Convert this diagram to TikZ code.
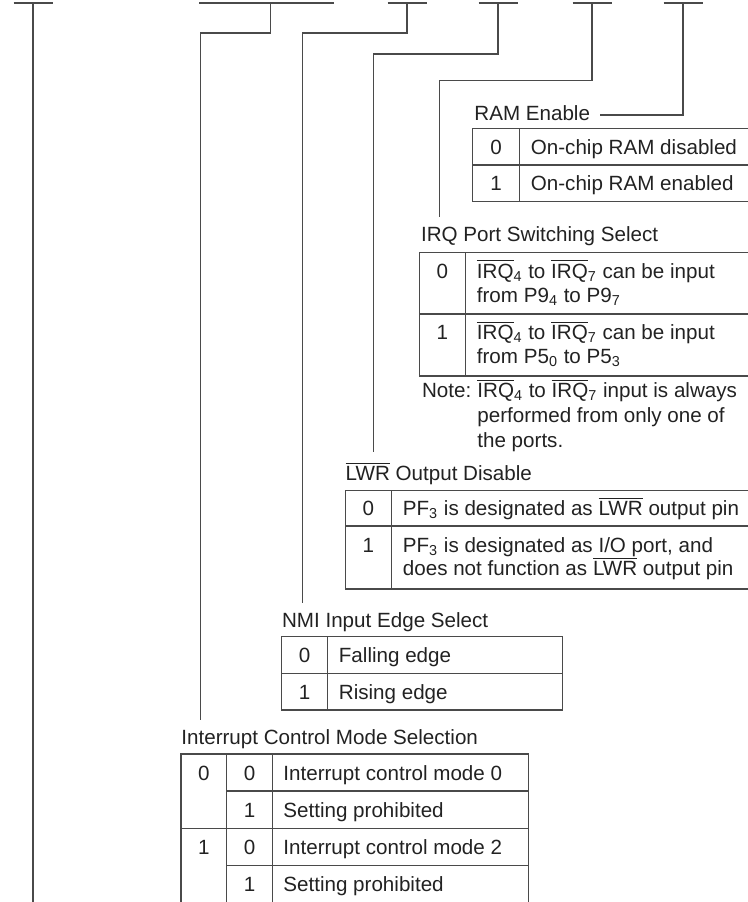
\documentclass[tikz,border=0pt]{standalone}
\usepackage{fontspec}
\setmainfont{Liberation Sans}
\usetikzlibrary{calc}
\definecolor{ink}{HTML}{222222}
\definecolor{rule}{HTML}{4A4A4A}
\newcommand{\ovl}[1]{$\overline{\mbox{#1}}$}
\newcommand{\lo}[1]{\textsubscript{#1}}
\newcommand{\txtsize}{\fontsize{10.3}{12}\selectfont}
\tikzset{
  wire/.style={draw=rule, line width=0.75pt},
  grid/.style={draw=rule, line width=0.75pt},
  title/.style={anchor=base west, inner xsep=0pt, inner ysep=4.6pt,
                text height=7.4pt, text depth=2.4pt, font=\txtsize, text=ink},
  entry/.style={anchor=base west, inner sep=0pt, font=\txtsize, text=ink},
  bitv/.style={anchor=base, inner sep=0pt, font=\txtsize, text=ink},
}
\begin{document}
\begin{tikzpicture}[x=0.5pt,y=-0.5pt]
  \useasboundingbox (0,0) rectangle (748,902);
  % bit ticks
  \foreach \x in {33,407,498,592,683}
    \draw[wire] (\x-19.5,3) -- (\x+19.5,3);
  \draw[wire] (199,3) -- (334,3);
  \coordinate (t7) at (33,3);
  \coordinate (t54) at (270.7,3);
  \coordinate (t3) at (407,3);
  \coordinate (t2) at (498,3);
  \coordinate (t1) at (592,3);
  \coordinate (t0) at (683,3);
  \coordinate (e7) at (33,905);
  \coordinate (k54) at (200.7,33);
  \coordinate (k3) at (302.7,33);
  \coordinate (k2) at (373.7,54);
  \coordinate (k1) at (439.3,80.7);

  % field titles
  \node[title] (lram) at (474,120) {RAM Enable};
  \node[title] (lirq) at (420.7,241.4) {IRQ Port Switching Select};
  \node[title] (llwr) at (345.3,480.7) {\ovl{LWR} Output Disable};
  \node[title] (lnmi) at (281.7,627.4) {NMI Input Edge Select};
  \node[title] (licm) at (181,744.4) {Interrupt Control Mode Selection};

  % routing
  \draw[wire] (t7) -- (e7);
  \draw[wire] (t54) |- (k54) -- (k54 |- licm.north);
  \draw[wire] (t3) |- (k3) -- (k3 |- lnmi.north);
  \draw[wire] (t2) |- (k2) -- ([yshift=2.2pt]k2 |- llwr.north);
  \draw[wire] (t1) |- (k1) -- (k1 |- lirq.north);
  \draw[wire] (t0) |- ([xshift=5pt]lram.east);

  % RAM enable
  \draw[grid] (472.7,128.5) rectangle (750,201.5);
  \draw[grid] (472.7,165) -- (750,165) (519.3,128.5) -- (519.3,201.5);
  \node[bitv] (r0) at (496,154) {0};
  \node[entry] (r0t) at (530.5,154) {On-chip RAM disabled};
  \node[bitv] (r1) at (496,190.7) {1};
  \node[entry] (r1t) at (530.5,190.7) {On-chip RAM enabled};

  % IRQ port switching
  \draw[grid] (419.3,252.5) rectangle (750,376);
  \draw[grid] (419.3,314) -- (750,314) (465.5,252.5) -- (465.5,376);
  \node[bitv] (q0) at (442.4,278) {0};
  \node[entry] (q0a) at (476.5,278) {\ovl{IRQ}\lo{4} to \ovl{IRQ}\lo{7} can be input};
  \node[entry] (q0b) at (476.5,302) {from P9\lo{4} to P9\lo{7}};
  \node[bitv] (q1) at (442.4,339.5) {1};
  \node[entry] (q1a) at (476.5,339.5) {\ovl{IRQ}\lo{4} to \ovl{IRQ}\lo{7} can be input};
  \node[entry] (q1b) at (476.5,363.5) {from P5\lo{0} to P5\lo{3}};
  \node[entry] (nt) at (421.7,397.4) {Note:};
  \node[entry] (nta) at (477,397.4) {\ovl{IRQ}\lo{4} to \ovl{IRQ}\lo{7} input is always};
  \node[entry] (ntb) at (477,422.4) {performed from only one of};
  \node[entry] (ntc) at (477,447.4) {the ports.};

  % LWR output disable
  \draw[grid] (345.3,490.7) rectangle (750,589);
  \draw[grid] (345.3,526) -- (750,526) (391.3,490.7) -- (391.3,589);
  \node[bitv] (w0) at (368.3,515.7) {0};
  \node[entry] (w0a) at (402.5,515.7) {PF\lo{3} is designated as \ovl{LWR} output pin};
  \node[bitv] (w1) at (368.3,552.4) {1};
  \node[entry] (w1a) at (402.5,552.4) {PF\lo{3} is designated as I/O port, and};
  \node[entry] (w1b) at (402.5,575.4) {does not function as \ovl{LWR} output pin};

  % NMI edge
  \draw[grid] (281.7,636.7) rectangle (562.3,710);
  \draw[grid] (281.7,673.3) -- (562.3,673.3) (327.7,636.7) -- (327.7,710);
  \node[bitv] (m0) at (304.7,662.4) {0};
  \node[entry] (m0a) at (338.5,662.4) {Falling edge};
  \node[bitv] (m1) at (304.7,699.1) {1};
  \node[entry] (m1a) at (338.5,699.1) {Rising edge};

  % interrupt control mode
  \draw[grid] (181,906) -- (181,754) -- (528.3,754) -- (528.3,906);
  \draw[grid] (226.7,754) -- (226.7,906) (272.7,754) -- (272.7,906);
  \draw[grid] (226.7,791) -- (528.3,791) (181,828.3) -- (528.3,828.3)
              (226.7,865.7) -- (528.3,865.7);
  \node[bitv] (c1a) at (203.9,780) {0};
  \node[bitv] (c0a) at (249.7,780) {0};
  \node[entry] (ca) at (283,780) {Interrupt control mode 0};
  \node[bitv] (c0b) at (249.7,817.1) {1};
  \node[entry] (cb) at (283,817.1) {Setting prohibited};
  \node[bitv] (c1c) at (203.9,854.4) {1};
  \node[bitv] (c0c) at (249.7,854.4) {0};
  \node[entry] (cc) at (283,854.4) {Interrupt control mode 2};
  \node[bitv] (c0d) at (249.7,891.4) {1};
  \node[entry] (cd) at (283,891.4) {Setting prohibited};
\end{tikzpicture}
\end{document}
